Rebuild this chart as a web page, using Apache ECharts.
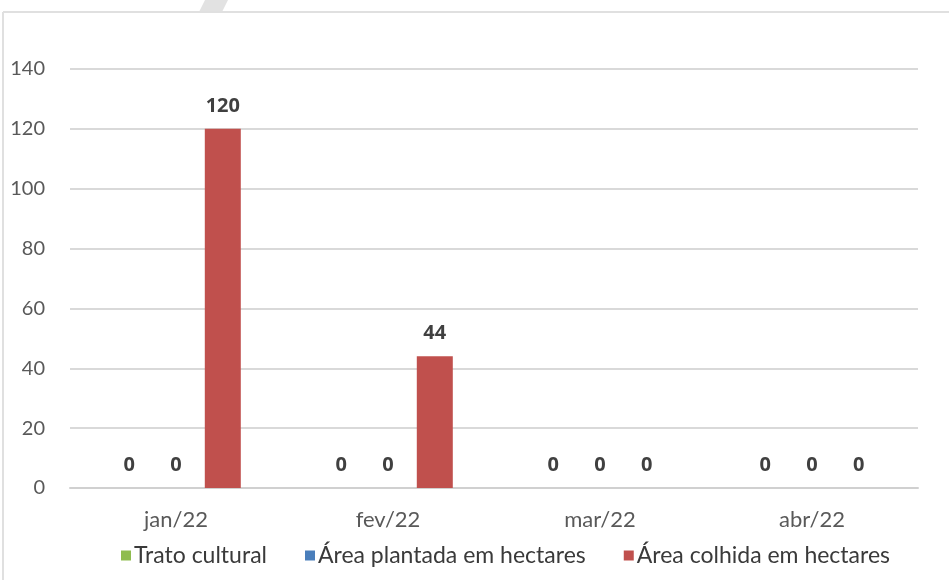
<!DOCTYPE html>
<html>
<head>
    <meta charset="utf-8">
    <script src="https://cdn.jsdelivr.net/npm/echarts@6/dist/echarts.min.js"></script>
    <style type="text/css">
        html, body { width: 100%; height: 100%; }
        * { margin: 0; }
        #chart { width: 949px; height: 580px; }
    </style>
</head>
<body>
<div id="chart"></div>
<script type="text/javascript">
    // dados
    var meses = ['jan/22', 'fev/22', 'mar/22', 'abr/22'];
    var tratoCultural = [0, 0, 0, 0];
    var areaPlantada = [0, 0, 0, 0];
    var areaColhida = [120, 44, 0, 0];
    var yTicks = [0, 20, 40, 60, 80, 100, 120, 140];

    var labelFont = 'Lato';
    var rotulo = {
        show: true,
        position: 'top',
        distance: 13,
        color: '#404040',
        fontFamily: 'Open Sans',
        fontWeight: 'bold',
        fontSize: 20
    };

    function serie(nome, cor, valores) {
        return {
            name: nome,
            type: 'bar',
            data: valores,
            barWidth: 36,
            barGap: '30%',
            itemStyle: { color: cor },
            label: rotulo
        };
    }

    var myChart = echarts.init(document.getElementById('chart'));
    myChart.setOption({
        backgroundColor: '#ffffff',
        animation: false,
        graphic: [
            { type: 'polygon', shape: { points: [[205, 0], [228, 0], [222, 12], [199, 12]] }, style: { fill: '#e2e2e2' } },
            { type: 'line', shape: { x1: 3, y1: 12, x2: 949, y2: 12 }, style: { stroke: '#e0e0e0', lineWidth: 2 } },
            { type: 'line', shape: { x1: 3, y1: 12, x2: 3, y2: 580 }, style: { stroke: '#e0e0e0', lineWidth: 2 } }
        ],
        grid: { left: 70, right: 31, top: 69, bottom: 92 },
        legend: {
            bottom: 8,
            left: 116,
            itemWidth: 10,
            itemHeight: 10,
            itemGap: 38,
            icon: 'rect',
            textStyle: { color: '#3a3a3a', fontSize: 23, fontFamily: labelFont, padding: [0, 0, 0, -2] },
            data: ['Trato cultural', 'Área plantada em hectares', 'Área colhida em hectares']
        },
        xAxis: {
            type: 'category',
            data: meses,
            axisLine: { lineStyle: { color: '#d0d0d0', width: 2 } },
            axisTick: { show: false },
            axisLabel: { color: '#595959', fontSize: 22, fontFamily: labelFont, margin: 21 }
        },
        yAxis: {
            type: 'value',
            min: yTicks[0],
            max: yTicks[yTicks.length - 1],
            interval: 20,
            axisLine: { show: false },
            axisTick: { show: false },
            splitLine: { lineStyle: { color: '#d9d9d9', width: 2 } },
            axisLabel: { color: '#595959', fontSize: 20, fontFamily: labelFont, margin: 25 }
        },
        series: [
            serie('Trato cultural', '#8fbc4f', tratoCultural),
            serie('Área plantada em hectares', '#4a7ebb', areaPlantada),
            serie('Área colhida em hectares', '#c0504d', areaColhida)
        ]
    });
</script>
</body>
</html>
